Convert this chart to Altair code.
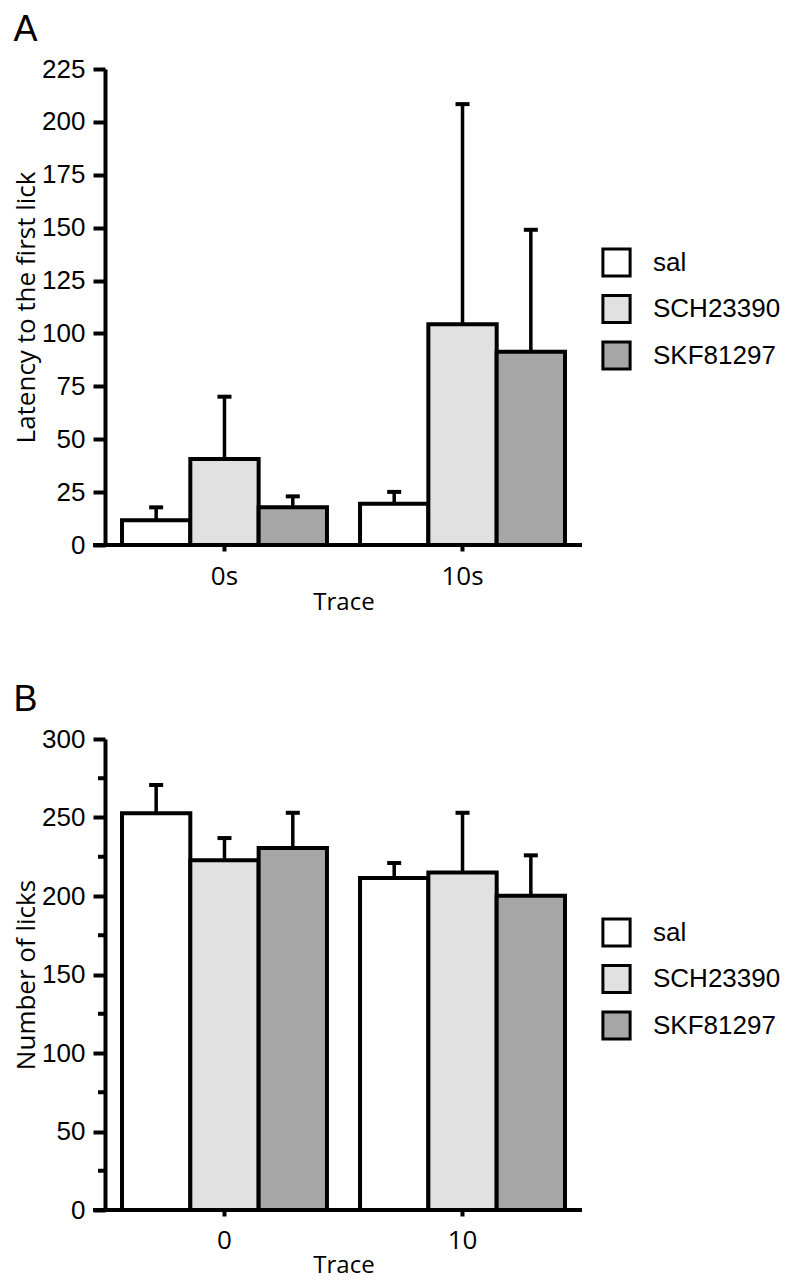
import altair as alt
import pandas as pd

treatments = ["sal", "SCH23390", "SKF81297"]
fill_colors = ["#ffffff", "#e1e1e1", "#a6a6a6"]

# Panel A: latency to the first lick
traces_a = ["0s", "10s"]
lat_sal = [11.7, 19.5]
lat_sch = [40.6, 104.4]
lat_skf = [17.9, 91.4]
lat_sal_err = [6.1, 5.6]
lat_sch_err = [29.5, 104.0]
lat_skf_err = [5.1, 57.6]
ticks_a = [0, 25, 50, 75, 100, 125, 150, 175, 200, 225]

# Panel B: number of licks
traces_b = ["0", "10"]
lk_sal = [252.7, 211.5]
lk_sch = [222.8, 215.0]
lk_skf = [230.5, 200.1]
lk_sal_err = [18.0, 9.5]
lk_sch_err = [14.1, 38.0]
lk_skf_err = [22.5, 25.8]
ticks_b = [0, 50, 100, 150, 200, 250, 300]
minor_b = [25, 75, 125, 175, 225, 275]


def table(traces, series, errs):
    rows = []
    for t_i, tr in enumerate(traces):
        for g_i, g in enumerate(treatments):
            v = series[g_i][t_i]
            e = errs[g_i][t_i]
            rows.append({"Trace": tr, "group": g, "value": v, "top": v + e})
    return pd.DataFrame(rows)


df_a = table(traces_a, [lat_sal, lat_sch, lat_skf], [lat_sal_err, lat_sch_err, lat_skf_err])
df_b = table(traces_b, [lk_sal, lk_sch, lk_skf], [lk_sal_err, lk_sch_err, lk_skf_err])

W = 477
LABEL_FONT = "Liberation Sans"
TITLE_FONT = "Open Sans"


def panel(df, traces, ymax, ticks, ytitle, height, letter, minor=None, lpad=12, tpad=1):
    x = alt.X(
        "Trace:N",
        sort=traces,
        scale=alt.Scale(range=[17, 460], paddingInner=0.139, paddingOuter=0),
        axis=alt.Axis(
            title="Trace", labelAngle=0, labelFont=TITLE_FONT, labelFontSize=26,
            labelColor="black", labelPadding=lpad, tickSize=6, tickWidth=4, tickColor="black",
            domain=False, titleFont=TITLE_FONT, titleFontSize=24,
            titleFontWeight="normal", titleColor="black", titlePadding=tpad,
        ),
    )
    xoff = alt.XOffset("group:N", sort=treatments, scale=alt.Scale(paddingInner=0, paddingOuter=0))
    y = alt.Y(
        "value:Q",
        scale=alt.Scale(domain=[0, ymax], nice=False, zero=True),
        axis=alt.Axis(
            title=ytitle, values=ticks, grid=False, tickSize=12, tickWidth=4,
            tickColor="black", domainWidth=4, domainColor="black", labelFont=LABEL_FONT,
            labelFontSize=26, labelColor="black", labelPadding=8, titleFont=TITLE_FONT,
            titleFontSize=26, titleFontWeight="normal", titleColor="black", titlePadding=2,
        ),
    )
    base = alt.Chart(df)
    err = base.mark_rule(color="black", strokeWidth=3.5).encode(
        x=x, xOffset=xoff, y=y, y2="top:Q"
    )
    cap = base.mark_tick(color="black", size=14, thickness=4, opacity=1).encode(
        x=x, xOffset=xoff, y=alt.Y("top:Q")
    )
    bars = base.mark_bar(stroke="black", strokeWidth=4, opacity=1).encode(
        x=x, xOffset=xoff, y=y,
        fill=alt.Fill(
            "group:N", sort=treatments,
            scale=alt.Scale(domain=treatments, range=fill_colors),
            legend=alt.Legend(
                title=None, orient="none", legendX=496, legendY=178, symbolType="square",
                symbolSize=740, symbolStrokeColor="black", symbolStrokeWidth=3,
                symbolOpacity=1, labelFont=LABEL_FONT, labelFontSize=26, labelColor="black",
                labelOffset=21, rowPadding=5.5, padding=0,
            ),
        ),
    )
    xline = alt.Chart(pd.DataFrame({"d": [0]})).mark_rule(color="black", strokeWidth=4).encode(
        x=alt.value(-12), x2=alt.value(W), y=alt.value(height)
    )
    layers = [err, cap, bars, xline]
    if minor is not None:
        mdf = pd.DataFrame({"m": minor})
        mt = alt.Chart(mdf).mark_rule(color="black", strokeWidth=4).encode(
            y=alt.Y("m:Q"), x=alt.value(-7), x2=alt.value(0)
        )
        layers.append(mt)
    return alt.layer(*layers).properties(
        width=W, height=height,
        title=alt.TitleParams(
            letter, anchor="start", frame="bounds", font=LABEL_FONT, fontSize=36,
            fontWeight="normal", color="black", offset=7,
        ),
    )


pa = panel(df_a, traces_a, 225, ticks_a, "Latency to the first lick", 476, "A")
pb = panel(df_b, traces_b, 300, ticks_b, "Number of licks", 471, "B", minor=minor_b,
           lpad=11, tpad=0)

chart = alt.vconcat(pa, pb, spacing=68).resolve_scale(fill="independent").properties(
    padding={"left": 5, "top": 4, "right": 0, "bottom": 8}, background="white"
).configure_view(strokeWidth=0, stroke="transparent")

chart.save("out.html", embed_options={"renderer": "svg", "actions": False})
